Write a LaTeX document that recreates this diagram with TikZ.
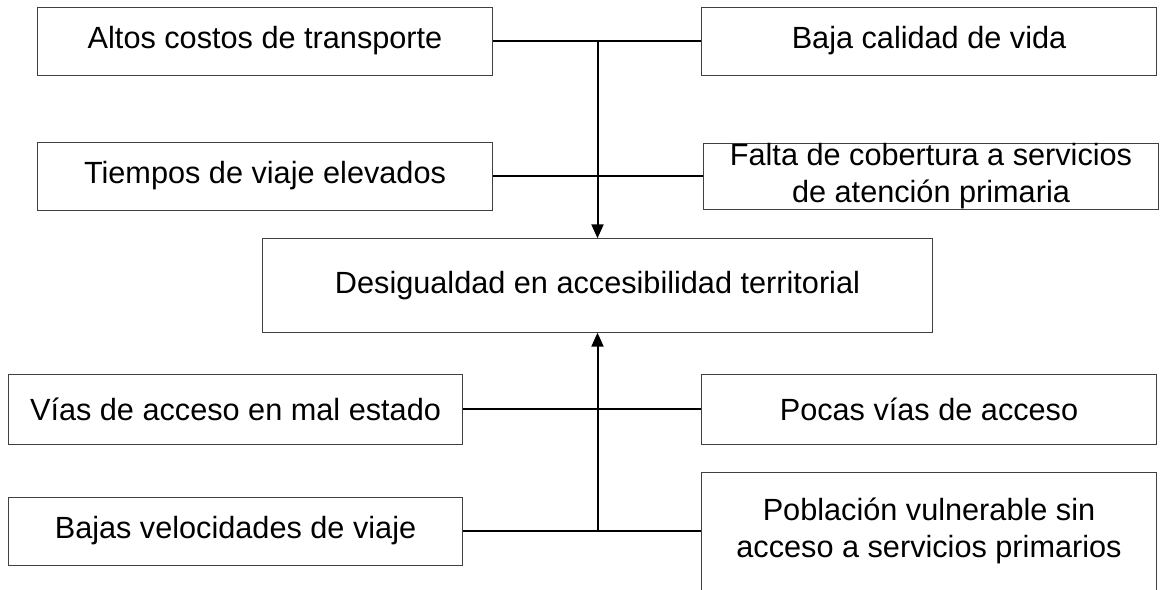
\documentclass[tikz,border=0pt]{standalone}
\usepackage{fontspec}
\setmainfont{Liberation Sans}
\usetikzlibrary{arrows.meta,positioning}
\tikzset{every picture/.style={/utils/exec={\fontsize{23}{27.5}\selectfont}}}
\tikzset{
  box/.style={draw=black!75, line width=0.75pt, align=center, inner sep=0pt},
  cause/.style={box, minimum width=341pt, minimum height=51pt},
  link/.style={line width=1.5pt},
  headed/.style={-{Triangle[length=10.5pt,width=9pt]}}
}

\begin{document}
\begin{tikzpicture}[x=0.75pt,y=-0.75pt]
  \path[use as bounding box] (0,0) rectangle (1162,589);
  \clip (0,0) rectangle (1162,589);

  \node[cause] (altos) at (265,41) {Altos costos de transporte};
  \node[cause] (baja) at (929,41) {Baja calidad de vida};
  \node[cause] (tiempos) at (265,176) {Tiempos de viaje elevados};
  \node[cause, minimum height=49.5pt] (falta) at (931,176) {Falta de cobertura a servicios\\de atención primaria};

  \node[box, minimum width=503pt, minimum height=70pt] (desig) at (597.5,285.5) {Desigualdad en accesibilidad territorial};

  \node[cause, minimum height=52.5pt] (vias) at (235.5,409) {Vías de acceso en mal estado};
  \node[cause, minimum height=52.5pt] (pocas) at (929,409) {Pocas vías de acceso};
  \node[cause] (bajas) at (235.5,531) {Bajas velocidades de viaje};
  \node[cause, minimum height=88.5pt] (poblacion) at (929,531) {Población vulnerable sin\\acceso a servicios primarios};

  \draw[link] (altos) -- (baja);
  \draw[link] (tiempos) -- (falta);
  \draw[link] (vias) -- (pocas);
  \draw[link] (bajas) -- (poblacion);

  \draw[link,headed] (altos.east -| desig.north) -- (desig.north);
  \draw[link,headed] (bajas.east -| desig.south) -- (desig.south);
\end{tikzpicture}
\end{document}
